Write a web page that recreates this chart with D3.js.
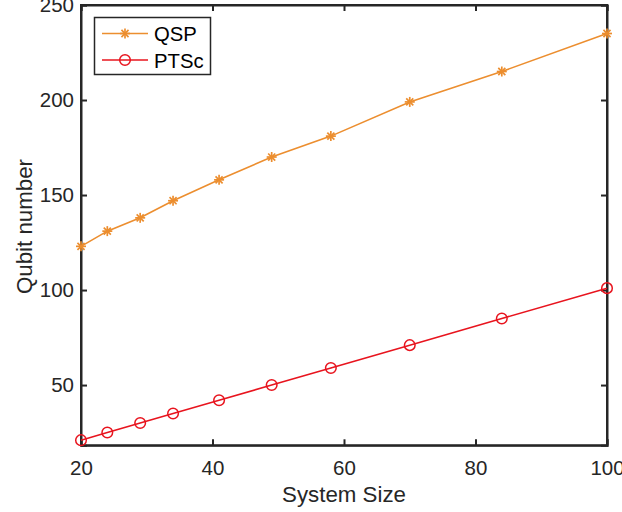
<!DOCTYPE html>
<html><head><meta charset="utf-8">
<script src="https://cdn.jsdelivr.net/npm/d3@7"></script>
<style>body{margin:0;background:#fff}svg{display:block}</style>
</head><body>
<script>
const systemSize = [20, 24, 29, 34, 41, 49, 58, 70, 84, 100];
const qsp = [123, 131, 138, 147, 158, 170, 181, 199, 215, 235];
const ptsc = [21, 25, 30, 35, 42, 50, 59, 71, 85, 101];
const xTicks = [20, 40, 60, 80, 100];
const yTicks = [50, 100, 150, 200, 250];
const seriesNames = ["QSP", "PTSc"];
const colors = ["#ec8e2f", "#e8141e"];

const W = 622, H = 512;
const L = 81, R = 607, T = 5, B = 445.3;
const svg = d3.select("body").append("svg").attr("width", W).attr("height", H);
const x = d3.scaleLinear().domain([20, 100]).range([L, R]);
const y = d3.scaleLinear().domain([18.3, 250]).range([B, T]);
const font = "Helvetica, 'Liberation Sans', Arial, sans-serif";
const axCol = "#262626";

// axes
const gx = svg.append("g").attr("transform", `translate(0,${B})`)
  .call(d3.axisBottom(x).tickValues(xTicks).tickSize(-6).tickPadding(13).tickFormat(d3.format("d")));
const gxt = svg.append("g").attr("transform", `translate(0,${T})`)
  .call(d3.axisTop(x).tickValues(xTicks).tickSize(-6).tickFormat(""));
const gy = svg.append("g").attr("transform", `translate(${L},0)`)
  .call(d3.axisLeft(y).tickValues(yTicks).tickSize(-6).tickPadding(7).tickFormat(d3.format("d")));
const gyr = svg.append("g").attr("transform", `translate(${R},0)`)
  .call(d3.axisRight(y).tickValues(yTicks).tickSize(-6).tickFormat(""));
[gx, gxt, gy, gyr].forEach(g => {
  g.selectAll(".domain").attr("stroke", axCol).attr("stroke-width", 2);
  g.selectAll(".tick line").attr("stroke", axCol).attr("stroke-width", 2);
  g.selectAll("text").attr("fill", axCol).style("font-family", font).style("font-size", "20.5px");
});
gx.selectAll("text").attr("dy", "0.82em");
// outline box
svg.append("rect").attr("x", L).attr("y", T).attr("width", R - L).attr("height", B - T)
  .attr("fill", "none").attr("stroke", axCol).attr("stroke-width", 2);

// axis labels
svg.append("text").attr("x", 344).attr("y", 502).attr("text-anchor", "middle")
  .attr("fill", axCol).style("font-family", font).style("font-size", "22.3px").text("System Size");
svg.append("text").attr("transform", `translate(31.5,226.5) rotate(-90)`).attr("text-anchor", "middle")
  .attr("fill", axCol).style("font-family", font).style("font-size", "22.3px").text("Qubit number");

const line = d3.line().x(d => x(d[0])).y(d => y(d[1]));
const data = [qsp, ptsc].map(s => systemSize.map((v, i) => [v, s[i]]));

function star(g, cx, cy, c) {
  const r = 5;
  for (let k = 0; k < 4; k++) {
    const a = k * Math.PI / 4;
    g.append("line").attr("x1", cx - r * Math.cos(a)).attr("y1", cy - r * Math.sin(a))
      .attr("x2", cx + r * Math.cos(a)).attr("y2", cy + r * Math.sin(a))
      .attr("stroke", c).attr("stroke-width", 1.7);
  }
}
function circ(g, cx, cy, c) {
  g.append("circle").attr("cx", cx).attr("cy", cy).attr("r", 5.3)
    .attr("fill", "none").attr("stroke", c).attr("stroke-width", 1.5);
}
const markers = [star, circ];

data.forEach((d, i) => {
  const g = svg.append("g");
  g.append("path").datum(d).attr("d", line).attr("fill", "none").attr("stroke", colors[i]).attr("stroke-width", 1.6);
  d.forEach(p => markers[i](g, x(p[0]), y(p[1]), colors[i]));
});

// legend
const lg = svg.append("g");
lg.append("rect").attr("x", 94.5).attr("y", 17.5).attr("width", 116).attr("height", 57)
  .attr("fill", "#fff").attr("stroke", axCol).attr("stroke-width", 1.5);
seriesNames.forEach((n, i) => {
  const yy = 33.5 + i * 26.5;
  lg.append("line").attr("x1", 102).attr("x2", 148).attr("y1", yy).attr("y2", yy)
    .attr("stroke", colors[i]).attr("stroke-width", 1.6);
  markers[i](lg, 125, yy, colors[i]);
  lg.append("text").attr("x", 154).attr("y", yy + 7.5).attr("fill", "#000")
    .style("font-family", font).style("font-size", "20.3px").text(n);
});
</script>
</body></html>
